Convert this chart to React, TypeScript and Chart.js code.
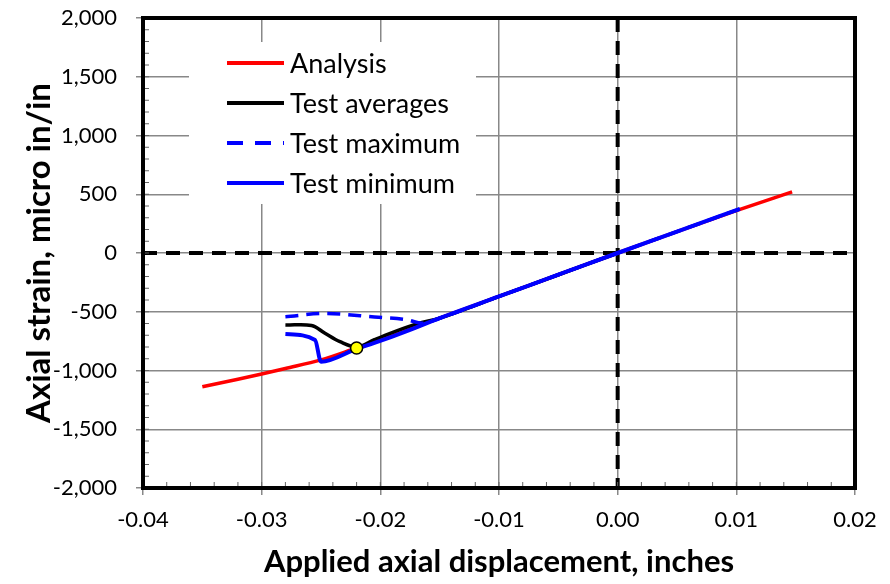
import React, { useEffect, useRef } from "react";
import { Chart, registerables } from "chart.js";
Chart.register(...registerables);

const analysisX = [-0.035, -0.032, -0.03, -0.028, -0.025, -0.022, -0.02, -0.015, -0.01, -0.005, 0, 0.005, 0.01, 0.0147];
const analysisY = [-1138, -1075, -1030, -983, -910, -808, -740, -555, -370, -185, 0, 182, 360, 520];

const avgX = [-0.028, -0.0258, -0.0247, -0.0234, -0.022, -0.0205, -0.019, -0.0175, -0.0165, -0.015, -0.01, -0.005, 0];
const avgY = [-613, -617, -681, -755, -800, -738, -678, -622, -590, -555, -370, -185, 0];

const maxX = [-0.028, -0.0247, -0.0205, -0.0177, -0.0165, -0.015, -0.01, -0.005, 0, 0.005, 0.0103];
const maxY = [-542, -515, -545, -570, -598, -555, -370, -185, 0, 182, 375];

const minX = [-0.028, -0.0255, -0.025, -0.022, -0.0205, -0.019, -0.0175, -0.015, -0.01, -0.005, 0, 0.005, 0.0103];
const minY = [-690, -740, -925, -815, -765, -712, -655, -555, -370, -185, 0, 182, 375];

const markX = [-0.022];
const markY = [-808];

const xTicks = [-0.04, -0.03, -0.02, -0.01, 0.0, 0.01, 0.02];
const yTicks = [-2000, -1500, -1000, -500, 0, 500, 1000, 1500, 2000];

const legendLabels = ["Analysis", "Test averages", "Test maximum", "Test minimum"];
const seriesColors = ["#ff0000", "#000000", "#0000ff", "#0000ff"];

const pts = (xs: number[], ys: number[]) => xs.map((x, i) => ({ x, y: ys[i] }));

const FONT = "Lato, 'Open Sans', sans-serif";

const decorPlugin = {
  id: "decor",
  beforeDatasetsDraw(chart: any) {
    const { ctx, chartArea: a, scales } = chart;
    const x0 = scales.x.getPixelForValue(0);
    const y0 = scales.y.getPixelForValue(0);
    ctx.save();
    ctx.strokeStyle = "#000";
    ctx.lineWidth = 4;
    ctx.setLineDash([14, 9]);
    ctx.beginPath();
    ctx.moveTo(a.left, y0);
    ctx.lineTo(a.right, y0);
    ctx.moveTo(x0, a.top);
    ctx.lineTo(x0, a.bottom);
    ctx.stroke();
    ctx.restore();
  },
  afterDraw(chart: any) {
    const { ctx, chartArea: a, scales } = chart;
    ctx.save();
    // legend box
    const lx = 189, ly = 42, lw = 287, lh = 162;
    ctx.fillStyle = "#fff";
    ctx.fillRect(lx, ly, lw, lh);
    const rows = [63, 103, 143, 183];
    legendLabels.forEach((lab, i) => {
      ctx.strokeStyle = seriesColors[i];
      ctx.lineWidth = 4;
      ctx.setLineDash(i === 2 ? [16, 12] : []);
      ctx.beginPath();
      ctx.moveTo(227, rows[i]);
      ctx.lineTo(284, rows[i]);
      ctx.stroke();
      ctx.setLineDash([]);
      ctx.fillStyle = "#000";
      ctx.font = "27px " + FONT;
      ctx.textBaseline = "middle";
      ctx.fillText(lab, 290, rows[i] + 1);
    });
    // minor ticks
    ctx.strokeStyle = "#666";
    ctx.lineWidth = 1;
    for (let v = -2000; v <= 2000; v += 100) {
      const y = scales.y.getPixelForValue(v);
      ctx.beginPath();
      ctx.moveTo(a.left, y);
      ctx.lineTo(a.left + 6, y);
      ctx.stroke();
    }
    for (let k = -20; k <= 10; k++) {
      const x = scales.x.getPixelForValue(k * 0.002);
      ctx.beginPath();
      ctx.moveTo(x, a.bottom);
      ctx.lineTo(x, a.bottom - 6);
      ctx.stroke();
    }
    // frame
    ctx.strokeStyle = "#000";
    ctx.lineWidth = 4;
    ctx.strokeRect(a.left, a.top, a.right - a.left, a.bottom - a.top);
    ctx.restore();
  },
};

export default function App() {
  const ref = useRef<HTMLCanvasElement>(null);
  useEffect(() => {
    document.body.style.margin = "0";
    const line = { showLine: true, pointRadius: 0, cubicInterpolationMode: "monotone" as const };
    const chart = new Chart(ref.current!, {
      type: "scatter",
      data: {
        datasets: [
          { label: "marker", data: pts(markX, markY), showLine: false, pointRadius: 6, pointBackgroundColor: "#ffff00", pointBorderColor: "#000", pointBorderWidth: 1.5, order: 0 },
          { ...line, label: legendLabels[3], data: pts(minX, minY), borderColor: "#0000ff", borderWidth: 4, order: 1 },
          { ...line, label: legendLabels[2], data: pts(maxX, maxY), borderColor: "#0000ff", borderWidth: 3.5, borderDash: [13, 8], order: 2 },
          { showLine: true, pointRadius: 0, tension: 0.35, label: legendLabels[1], data: pts(avgX, avgY), borderColor: "#000", borderWidth: 3.5, order: 3 },
          { ...line, label: legendLabels[0], data: pts(analysisX, analysisY), borderColor: "#ff0000", borderWidth: 3.5, order: 4 },
        ],
      },
      options: {
        animation: false,
        responsive: false,
        maintainAspectRatio: false,
        layout: { padding: { top: 18, right: 35, left: 0, bottom: 0 } },
        plugins: { legend: { display: false }, tooltip: { enabled: false } },
        scales: {
          x: {
            type: "linear",
            min: -0.04,
            max: 0.02,
            afterFit: (s: any) => { s.height = 96; s.paddingLeft = 0; s.paddingRight = 0; },
            afterBuildTicks: (s: any) => { s.ticks = xTicks.map((v) => ({ value: v })); },
            ticks: { color: "#000", font: { family: FONT, size: 22 }, padding: 12, callback: (v: any) => Number(v).toFixed(2) },
            grid: { color: "#888", lineWidth: 1.5, tickLength: 7 },
            border: { display: false },
            title: { display: true, text: "Applied axial displacement, inches", color: "#000", font: { family: FONT, size: 31, weight: "bold" }, padding: { top: 4, bottom: 3 } },
          },
          y: {
            type: "linear",
            min: -2000,
            max: 2000,
            afterFit: (s: any) => { s.width = 143; s.paddingTop = 0; s.paddingBottom = 0; },
            afterBuildTicks: (s: any) => { s.ticks = yTicks.map((v) => ({ value: v })); },
            ticks: { color: "#000", font: { family: FONT, size: 22 }, padding: 19, callback: (v: any) => Number(v).toLocaleString("en-US") },
            grid: { color: "#888", lineWidth: 1.5, tickLength: 7 },
            border: { display: false },
            title: { display: true, text: "Axial strain, micro in/in", color: "#000", font: { family: FONT, size: 33, weight: "bold" }, padding: { top: 20, bottom: 4 } },
          },
        },
      },
      plugins: [decorPlugin],
    });
    return () => chart.destroy();
  }, []);
  return (
    <div style={{ position: "absolute", left: 0, top: 0, width: 890, height: 584, background: "#fff" }}>
      <canvas ref={ref} width={890} height={584} style={{ width: 890, height: 584 }} />
    </div>
  );
}
